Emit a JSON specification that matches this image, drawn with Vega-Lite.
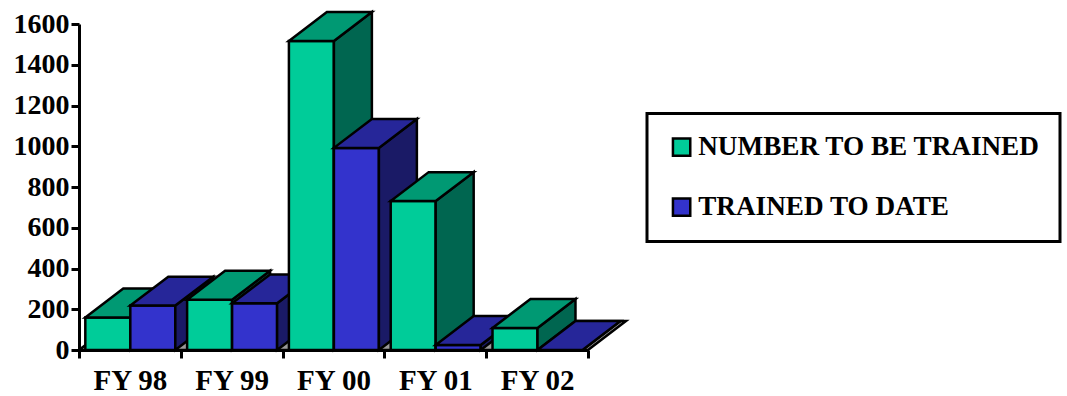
{
  "$schema": "https://vega.github.io/schema/vega-lite/v6.json",
  "width": 509,
  "height": 326,
  "autosize": {"type": "none"},
  "padding": {"left": 79, "top": 24, "right": 479, "bottom": 46},
  "background": "white",
  "config": {"view": {"stroke": null}, "font": "Liberation Serif", "legend": {"strokeWidth": 3}},
  "encoding": {
    "x": {
      "field": "xp", "type": "quantitative",
      "scale": {"domain": [0, 5], "nice": false, "zero": false},
      "axis": {
        "title": null, "values": [0, 0.5, 1, 1.5, 2, 2.5, 3, 3.5, 4, 4.5, 5],
        "labelExpr": "datum.value % 1 == 0 ? '' : datum.value < 1 ? 'FY 98' : datum.value < 2 ? 'FY 99' : datum.value < 3 ? 'FY 00' : datum.value < 4 ? 'FY 01' : 'FY 02'",
        "tickOpacity": {"condition": {"test": "datum.value % 1 != 0", "value": 0}, "value": 1},
        "labelFont": "Liberation Serif", "labelFontWeight": "bold", "labelFontSize": 29, "labelColor": "black",
        "labelOverlap": false, "labelFlush": false, "labelPadding": 8,
        "domainColor": "black", "domainWidth": 3, "tickColor": "black", "tickWidth": 3, "tickSize": 8,
        "grid": false, "zindex": 1
      }
    },
    "y": {
      "field": "yp", "type": "quantitative", "stack": null,
      "scale": {"domain": [0, 1600], "nice": false, "zero": true},
      "axis": {
        "title": null, "values": [0, 200, 400, 600, 800, 1000, 1200, 1400, 1600], "format": "d",
        "labelFont": "Liberation Serif", "labelFontWeight": "bold", "labelFontSize": 28, "labelColor": "black",
        "labelOverlap": false, "labelFlush": false, "labelPadding": 2,
        "domainColor": "black", "domainWidth": 3, "tickColor": "black", "tickWidth": 3, "tickSize": 8,
        "grid": false, "zindex": 1
      }
    },
    "y2": {"field": "yp2"}
  },
  "layer": [
    {
      "data": {"values": [{"v": "a"}, {"v": "b"}, {"v": "c"}, {"v": "d"}]},
      "transform": [
        {"calculate": "datum.v === 'a' ? 0 : datum.v === 'b' ? 0.373 : datum.v === 'c' ? 5 : 5.373", "as": "xp"},
        {"calculate": "datum.v === 'd' ? 142 : 0", "as": "yp"},
        {"calculate": "datum.v === 'a' ? 0 : 142", "as": "yp2"}
      ],
      "mark": {"type": "area", "fill": "#999999", "stroke": "black", "strokeWidth": 2.5, "strokeJoin": "miter", "clip": false}
    },
    {
      "data": {"values": [
        {"fy": "FY 98", "series": "NUMBER TO BE TRAINED", "value": 160},
        {"fy": "FY 98", "series": "TRAINED TO DATE", "value": 218},
        {"fy": "FY 99", "series": "NUMBER TO BE TRAINED", "value": 247},
        {"fy": "FY 99", "series": "TRAINED TO DATE", "value": 229},
        {"fy": "FY 00", "series": "NUMBER TO BE TRAINED", "value": 1517},
        {"fy": "FY 00", "series": "TRAINED TO DATE", "value": 992},
        {"fy": "FY 01", "series": "NUMBER TO BE TRAINED", "value": 731},
        {"fy": "FY 01", "series": "TRAINED TO DATE", "value": 25},
        {"fy": "FY 02", "series": "NUMBER TO BE TRAINED", "value": 108},
        {"fy": "FY 02", "series": "TRAINED TO DATE", "value": 0}
      ]},
      "transform": [
        {"calculate": "indexof(['FY 98','FY 99','FY 00','FY 01','FY 02'], datum.fy) + 0.062 + (datum.series === 'TRAINED TO DATE' ? 0.442 : 0)", "as": "xl"},
        {"calculate": "['front','side','top']", "as": "faces"},
        {"flatten": ["faces"], "as": ["face"]},
        {"calculate": "datum.face === 'top' ? ['a','b','c','d'] : ['a','d']", "as": "verts"},
        {"flatten": ["verts"], "as": ["v"]},
        {"calculate": "datum.face === 'front' ? datum.xl + (datum.v === 'a' ? 0 : 0.442) : datum.face === 'side' ? datum.xl + 0.442 + (datum.v === 'a' ? 0 : 0.373) : datum.xl + (datum.v === 'a' ? 0 : datum.v === 'b' ? 0.373 : datum.v === 'c' ? 0.442 : 0.815)", "as": "xp"},
        {"calculate": "datum.face === 'front' ? 0 : datum.face === 'side' ? (datum.v === 'a' ? 0 : 142) : (datum.v === 'd' ? datum.value + 142 : datum.value)", "as": "yp"},
        {"calculate": "datum.face === 'front' ? datum.value : datum.face === 'side' ? (datum.v === 'a' ? datum.value : datum.value + 142) : (datum.v === 'a' ? datum.value : datum.value + 142)", "as": "yp2"},
        {"calculate": "datum.fy + datum.series + datum.face", "as": "faceId"},
        {"calculate": "datum.face === 'front' ? datum.series : datum.series + ' ' + datum.face", "as": "colorKey"}
      ],
      "mark": {"type": "area", "stroke": "black", "strokeWidth": 2.5, "strokeJoin": "miter", "clip": false, "opacity": 1},
      "encoding": {
        "detail": {"field": "faceId"},
        "color": {
          "field": "colorKey", "type": "nominal",
          "scale": {
            "domain": ["NUMBER TO BE TRAINED", "TRAINED TO DATE", "NUMBER TO BE TRAINED side", "NUMBER TO BE TRAINED top", "TRAINED TO DATE side", "TRAINED TO DATE top"],
            "range": ["#00CC99", "#3333CC", "#006650", "#009973", "#1A1A66", "#262699"]
          },
          "legend": {
            "title": null, "values": ["NUMBER TO BE TRAINED", "TRAINED TO DATE"],
            "orient": "none", "legendX": 568, "legendY": 89.5,
            "fillColor": "white", "strokeColor": "black", "padding": 20,
            "symbolType": "square", "symbolSize": 300, "symbolStrokeColor": "black", "symbolStrokeWidth": 2.5, "symbolOpacity": 1,
            "labelFont": "Liberation Serif", "labelFontWeight": "bold", "labelFontSize": 27.2, "labelColor": "black",
            "labelLimit": 500, "labelOffset": 3, "rowPadding": 31, "symbolOffset": 1
          }
        }
      }
    }
  ]
}
